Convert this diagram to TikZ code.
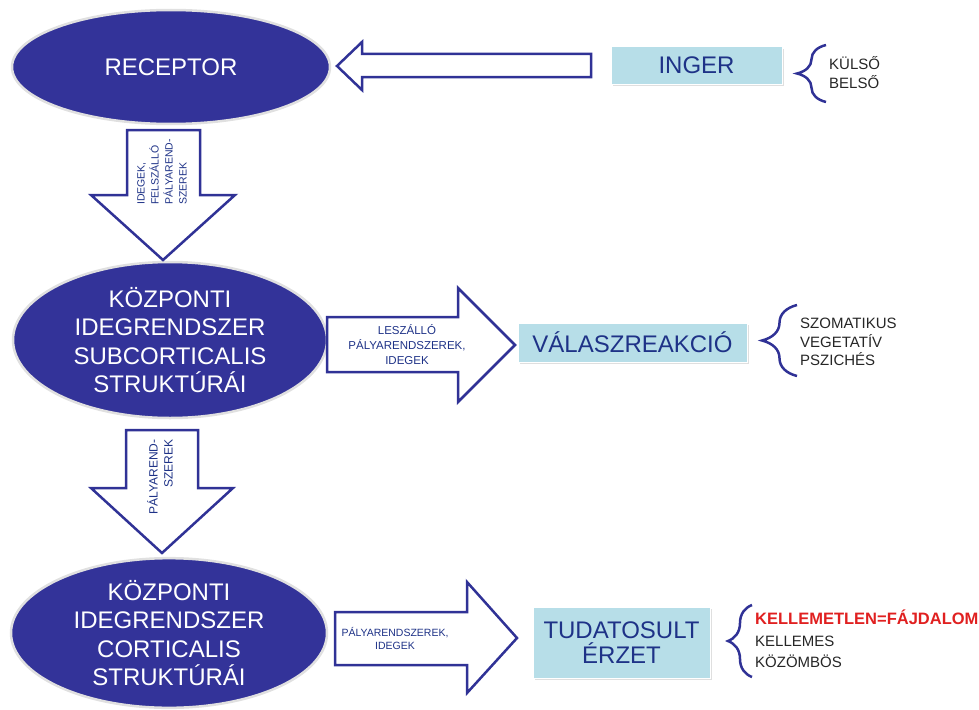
\documentclass[tikz,border=0pt]{standalone}
\usepackage{fontspec}
\setmainfont{Liberation Sans}
\usetikzlibrary{shapes.geometric,shadows,decorations.pathreplacing}
\definecolor{ellblue}{RGB}{51,51,153}
\definecolor{arrowblue}{RGB}{48,50,150}
\definecolor{boxfill}{RGB}{183,222,232}
\definecolor{txtblue}{RGB}{30,50,135}
\definecolor{painred}{RGB}{224,32,32}
\tikzset{
  organ/.style={ellipse, fill=ellblue, draw=black!12, line width=2.5pt, text=white,
    align=center, inner sep=0pt, font=\fontsize{24}{28.5}\selectfont},
  outcome/.style={rectangle, fill=boxfill, draw=white, line width=1pt, text=txtblue,
    align=center, inner sep=0pt, font=\fontsize{24}{25}\selectfont,
    drop shadow={opacity=0.25, shadow xshift=1.5pt, shadow yshift=-2pt}},
  blockarrow/.style={draw=arrowblue, line width=2.5pt, fill=white, line join=miter},
  pathlabel/.style={text=txtblue, inner sep=0pt},
  bracket/.style={draw=arrowblue, line width=2.5pt, decorate,
    decoration={brace, mirror, amplitude=#1}},
  kinds/.style={anchor=west, align=left, inner sep=0pt, text=black!85}
}
\begin{document}
\begin{tikzpicture}[x=1pt, y=-1pt]
  \useasboundingbox (0,0) rectangle (979,709);

  % organs
  \node[organ, minimum width=318pt, minimum height=114pt] (receptor) at (171,67) {RECEPTOR};
  \node[organ, minimum width=314pt, minimum height=156pt] (subcort) at (170,340)
    {KÖZPONTI\\IDEGRENDSZER\\SUBCORTICALIS\\STRUKTÚRÁI};
  \node[organ, minimum width=316pt, minimum height=142pt] (cortic) at (169,633)
    {KÖZPONTI\\IDEGRENDSZER\\CORTICALIS\\STRUKTÚRÁI};

  % boxes
  \node[outcome, minimum width=171pt, minimum height=37pt] (inger) at (696.5,65.5) {INGER};
  \node[outcome, minimum width=229pt, minimum height=39pt] (valasz) at (632.5,342.5) {VÁLASZREAKCIÓ};
  \node[outcome, minimum width=177pt, minimum height=71pt] (tudat) at (621.5,642.5) {TUDATOSULT\\ÉRZET};

  % block arrows
  \draw[blockarrow] (591,54) -- (362,54) -- (362,42) -- (337,66) -- (362,90) -- (362,77) -- (591,77) -- cycle;
  \draw[blockarrow] (127,130) -- (200,130) -- (200,195) -- (235,195) -- (163,260) -- (91,195) -- (127,195) -- cycle;
  \draw[blockarrow] (126,430) -- (198,430) -- (198,488) -- (233,488) -- (162,553) -- (91,488) -- (126,488) -- cycle;
  \draw[blockarrow] (327,317) -- (458,317) -- (458,288) -- (515,345) -- (458,402) -- (458,372) -- (327,372) -- cycle;
  \draw[blockarrow] (335,612) -- (467,612) -- (467,582) -- (517,638) -- (467,693) -- (467,665) -- (335,665) -- cycle;

  % arrow labels
  \node[pathlabel, rotate=90, align=left, font=\fontsize{10.5}{14}\selectfont] (up) at (162,172)
    {IDEGEK,\\FELSZÁLLÓ\\PÁLYAREND-\\SZEREK};
  \node[pathlabel, rotate=90, align=right, font=\fontsize{12}{15}\selectfont] (tract) at (160,477)
    {PÁLYAREND-\\SZEREK};
  \node[pathlabel, align=center, font=\fontsize{11.5}{15}\selectfont] (down) at (407,345)
    {LESZÁLLÓ\\PÁLYARENDSZEREK,\\IDEGEK};
  \node[pathlabel, align=center, font=\fontsize{10.5}{13.5}\selectfont] (nerves) at (395,638.5)
    {PÁLYARENDSZEREK,\\IDEGEK};

  % braces
  \draw[bracket=29pt] (826,45) -- (826,102);
  \draw[bracket=35pt] (797,305) -- (797,376);
  \draw[bracket=24pt] (752,605) -- (752,677);

  % lists
  \node[kinds, font=\fontsize{15}{19}\selectfont] (source) at (829,72.5) {KÜLSŐ\\BELSŐ};
  \node[kinds, font=\fontsize{15}{18.5}\selectfont] (reaction) at (800,342) {SZOMATIKUS\\VEGETATÍV\\PSZICHÉS};
  \node[kinds, font=\fontsize{15}{21.5}\selectfont] (feeling) at (755,639)
    {\textcolor{painred}{\fontsize{16.5}{21.5}\selectfont\bfseries KELLEMETLEN=FÁJDALOM}\\KELLEMES\\KÖZÖMBÖS};
\end{tikzpicture}
\end{document}
